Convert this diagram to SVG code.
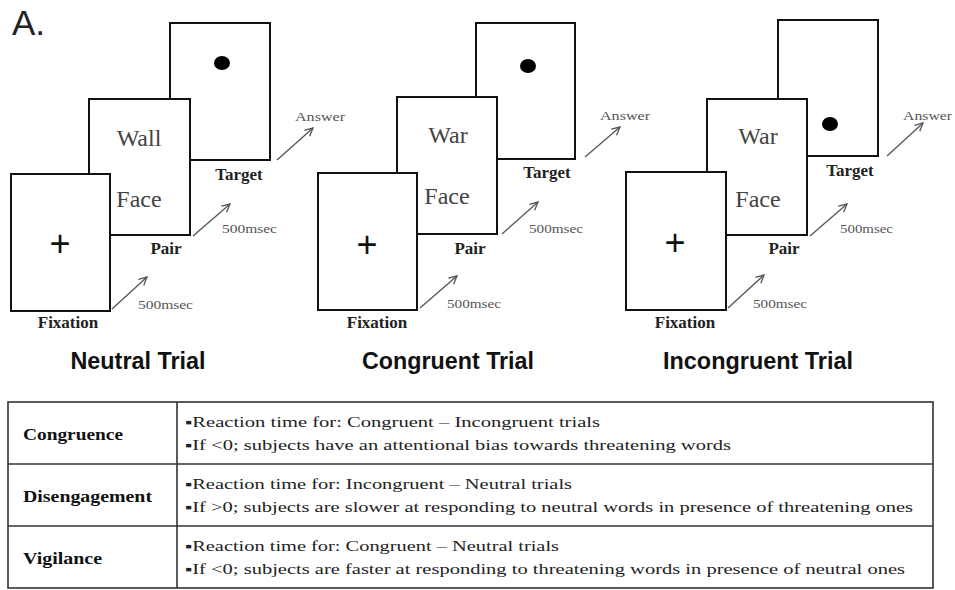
<svg xmlns="http://www.w3.org/2000/svg" width="955" height="590" viewBox="0 0 955 590">
<style>
.box{fill:#fff;stroke:#111;stroke-width:2}
.word{font-family:"Liberation Serif",serif;font-size:24px;fill:#444;text-anchor:middle}
.plus{font-family:"Liberation Sans",sans-serif;font-size:36px;fill:#111;text-anchor:middle}
.lbl{font-family:"Liberation Serif",serif;font-size:17px;font-weight:bold;fill:#222;text-anchor:middle}
.small{font-family:"Liberation Serif",serif;font-size:13px;fill:#555}
.title{font-family:"Liberation Sans",sans-serif;font-size:23px;font-weight:bold;fill:#111;text-anchor:middle}
.arrow{stroke:#555;stroke-width:1.3;fill:none;marker-end:url(#ah)}
.tline{stroke:#333;stroke-width:1.6;fill:none}
.rowlbl{font-family:"Liberation Serif",serif;font-size:16px;font-weight:bold;fill:#111}
.cell{font-family:"Liberation Serif","DejaVu Serif",serif;font-size:14px;fill:#222}
</style>
<defs>
<marker id="ah" markerUnits="userSpaceOnUse" markerWidth="12" markerHeight="12" refX="9" refY="5" orient="auto">
<path d="M1,1 L9,5 L1,9" fill="none" stroke="#555" stroke-width="1.3"/>
</marker>
</defs>
<rect width="955" height="590" fill="#fff"/>
<text x="12" y="35" font-family="Liberation Sans, sans-serif" font-size="35" fill="#222">A.</text>

<g id="neutral-trial">
<g id="n-target"><rect class="box" x="170" y="23" width="100" height="137"/><ellipse cx="222" cy="63" rx="8" ry="7" fill="#000"/><text class="lbl" x="239" y="180">Target</text></g>
<g id="n-pair"><rect class="box" x="89" y="99" width="101" height="136"/><text class="word" x="139" y="146">Wall</text><text class="word" x="139" y="207">Face</text><text class="lbl" x="166" y="254">Pair</text></g>
<g id="n-fix"><rect class="box" x="11" y="174" width="99" height="137"/><text class="plus" x="60" y="256">+</text><text class="lbl" x="68" y="328">Fixation</text></g>
<text class="title" x="138" y="369" textLength="135" lengthAdjust="spacingAndGlyphs">Neutral Trial</text>
</g>

<g id="congruent-trial">
<g id="c-target"><rect class="box" x="476" y="23" width="99" height="136"/><ellipse cx="528" cy="66" rx="8" ry="7" fill="#000"/><text class="lbl" x="547" y="178">Target</text></g>
<g id="c-pair"><rect class="box" x="397" y="97" width="100" height="137"/><text class="word" x="448" y="143">War</text><text class="word" x="447" y="204">Face</text><text class="lbl" x="470" y="254">Pair</text></g>
<g id="c-fix"><rect class="box" x="318" y="173" width="99" height="137"/><text class="plus" x="367" y="257">+</text><text class="lbl" x="377" y="328">Fixation</text></g>
<text class="title" x="448" y="369" textLength="172" lengthAdjust="spacingAndGlyphs">Congruent Trial</text>
</g>

<g id="incongruent-trial">
<g id="i-target"><rect class="box" x="778" y="20" width="100" height="136"/><ellipse cx="830" cy="124" rx="8" ry="7" fill="#000"/><text class="lbl" x="850" y="176">Target</text></g>
<g id="i-pair"><rect class="box" x="707" y="99" width="100" height="136"/><text class="word" x="758" y="144">War</text><text class="word" x="758" y="207">Face</text><text class="lbl" x="784" y="254">Pair</text></g>
<g id="i-fix"><rect class="box" x="626" y="172" width="100" height="138"/><text class="plus" x="675" y="255">+</text><text class="lbl" x="685" y="328">Fixation</text></g>
<text class="title" x="758" y="369" textLength="190" lengthAdjust="spacingAndGlyphs">Incongruent Trial</text>
</g>

<g id="connectors">
<line class="arrow" x1="112" y1="309" x2="147" y2="277"/>
<line class="arrow" x1="193" y1="236" x2="230" y2="204"/>
<line class="arrow" x1="277" y1="160" x2="313" y2="128"/>
<line class="arrow" x1="420" y1="308" x2="457" y2="276"/>
<line class="arrow" x1="502" y1="234" x2="538" y2="202"/>
<line class="arrow" x1="585" y1="157" x2="620" y2="127"/>
<line class="arrow" x1="728" y1="308" x2="764" y2="275"/>
<line class="arrow" x1="810" y1="236" x2="847" y2="204"/>
<line class="arrow" x1="887" y1="156" x2="923" y2="123"/>
</g>

<g id="timing-labels">
<text class="small" x="138" y="309" textLength="55" lengthAdjust="spacingAndGlyphs">500msec</text>
<text class="small" x="222" y="233" textLength="55" lengthAdjust="spacingAndGlyphs">500msec</text>
<text class="small" x="295" y="121" textLength="50" lengthAdjust="spacingAndGlyphs">Answer</text>
<text class="small" x="447" y="308" textLength="54" lengthAdjust="spacingAndGlyphs">500msec</text>
<text class="small" x="529" y="233" textLength="54" lengthAdjust="spacingAndGlyphs">500msec</text>
<text class="small" x="600" y="120" textLength="50" lengthAdjust="spacingAndGlyphs">Answer</text>
<text class="small" x="753" y="308" textLength="54" lengthAdjust="spacingAndGlyphs">500msec</text>
<text class="small" x="840" y="233" textLength="53" lengthAdjust="spacingAndGlyphs">500msec</text>
<text class="small" x="903" y="120" textLength="49" lengthAdjust="spacingAndGlyphs">Answer</text>
</g>

<g id="table">
<rect class="tline" x="8" y="402" width="925" height="186"/>
<line class="tline" x1="177" y1="402" x2="177" y2="588"/>
<line class="tline" x1="8" y1="464" x2="933" y2="464"/>
<line class="tline" x1="8" y1="526" x2="933" y2="526"/>
<text class="rowlbl" x="23" y="440" textLength="100" lengthAdjust="spacingAndGlyphs">Congruence</text>
<text class="rowlbl" x="23" y="502" textLength="129" lengthAdjust="spacingAndGlyphs">Disengagement</text>
<text class="rowlbl" x="23" y="564" textLength="79" lengthAdjust="spacingAndGlyphs">Vigilance</text>
<text class="cell" x="185" y="427" textLength="415" lengthAdjust="spacingAndGlyphs">▪Reaction time for: Congruent – Incongruent trials</text>
<text class="cell" x="185" y="450" textLength="546" lengthAdjust="spacingAndGlyphs">▪If &lt;0; subjects have an attentional bias towards threatening words</text>
<text class="cell" x="185" y="489" textLength="387" lengthAdjust="spacingAndGlyphs">▪Reaction time for: Incongruent – Neutral trials</text>
<text class="cell" x="185" y="512" textLength="728" lengthAdjust="spacingAndGlyphs">▪If &gt;0; subjects are slower at responding to neutral words in presence of threatening ones</text>
<text class="cell" x="185" y="551" textLength="374" lengthAdjust="spacingAndGlyphs">▪Reaction time for: Congruent – Neutral trials</text>
<text class="cell" x="185" y="574" textLength="720" lengthAdjust="spacingAndGlyphs">▪If &lt;0; subjects are faster at responding to threatening words in presence of neutral ones</text>
</g>
</svg>
